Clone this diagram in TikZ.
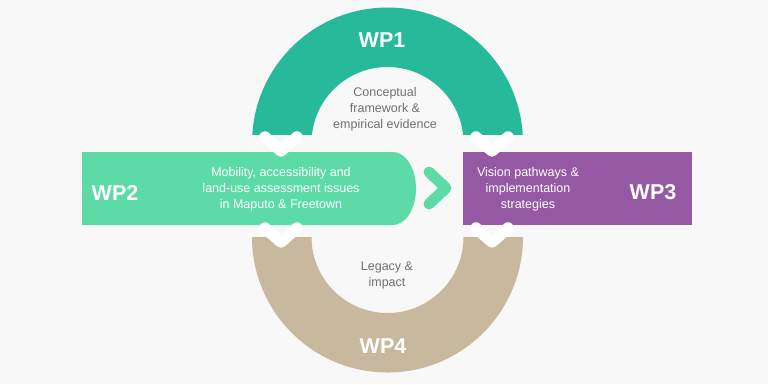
\documentclass[tikz,border=0pt]{standalone}
\usepackage{fontspec}
\setmainfont{Liberation Sans}
\definecolor{bgc}{HTML}{F8F8F8}
\definecolor{wpone}{HTML}{26B99A}
\definecolor{wptwo}{HTML}{5CDBA7}
\definecolor{wpthree}{HTML}{9559A3}
\definecolor{wpfour}{HTML}{C8B89D}
\definecolor{txtgray}{HTML}{707070}
\begin{document}
\begin{tikzpicture}[x=1pt,y=-1pt,
  wplabel/.style={font=\fontsize{21.5}{24}\selectfont\bfseries, text=white, anchor=base, inner sep=0pt},
  bodywhite/.style={font=\fontsize{12.5}{16}\selectfont, text=white, align=center, anchor=base, inner sep=0pt},
  bodygray/.style={font=\fontsize{12.5}{16}\selectfont, text=txtgray, align=center, anchor=base, inner sep=0pt},
  vmark/.style={draw=white, line width=11.5pt, line cap=round, line join=round},
  gmark/.style={draw=wptwo, line width=11pt, line cap=round, line join=round}]
\fill[bgc] (0,0) rectangle (768,384);
\useasboundingbox (0,0) rectangle (768,384);
% WP1 arch
\begin{scope}
\clip (240,0) rectangle (540,134);
\fill[wpone, even odd rule] (387.5,143) circle[radius=135.5] (387.5,143) circle[radius=76];
\end{scope}
% WP4 arch
\begin{scope}
\clip (240,237) rectangle (540,384);
\fill[wpfour, even odd rule] (387.5,237) circle[radius=135.5] (387.5,237) circle[radius=76];
\end{scope}
% WP2 bar
\fill[wptwo] (82,152) -- (393,152) arc[start angle=-90, end angle=90, x radius=23, y radius=36.5] -- (82,225) -- cycle;
% WP3 box
\fill[wpthree] (463,152) rectangle (692,225);
% white chevrons
\draw[vmark] (265,137) -- (281,151) -- (297,137);
\draw[vmark] (476,137) -- (492,151) -- (508,137);
\draw[vmark] (265,228) -- (281,242) -- (297,228);
\draw[vmark] (476,228) -- (492,242) -- (508,228);
% green chevron
\draw[gmark] (429,172) -- (446,188) -- (429,204);
% labels
\node[wplabel] (wp1) at (382,47) {WP1};
\node[wplabel] (wp2) at (115,200) {WP2};
\node[wplabel] (wp3) at (653,199) {WP3};
\node[wplabel] (wp4) at (383,353) {WP4};
\node[bodygray] (t1) at (385,128) {Conceptual\\framework \&\\empirical evidence};
\node[bodywhite] (t2) at (281,208) {Mobility, accessibility and\\land-use assessment issues\\in Maputo \& Freetown};
\node[bodywhite] (t3) at (528,208) {Vision pathways \&\\implementation\\strategies};
\node[bodygray] (t4) at (387,286) {Legacy \&\\impact};
\end{tikzpicture}
\end{document}
